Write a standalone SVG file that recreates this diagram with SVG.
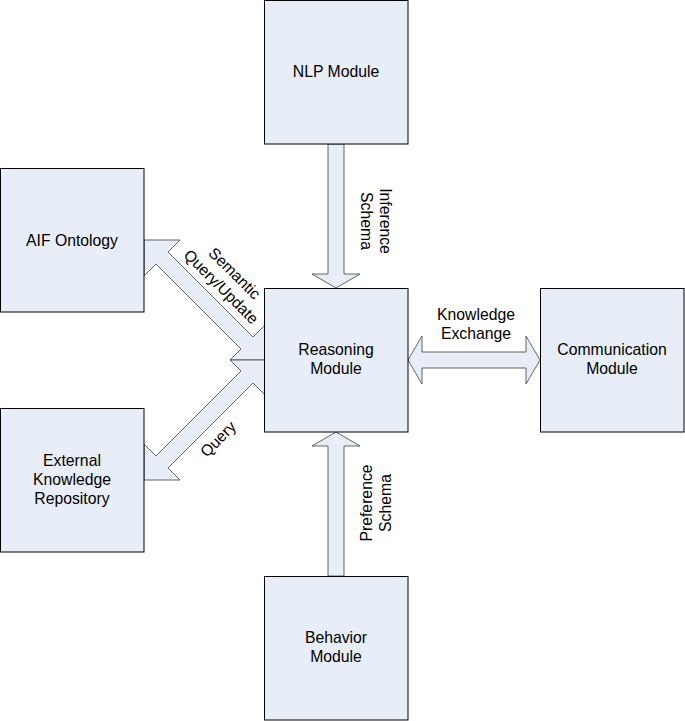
<svg xmlns="http://www.w3.org/2000/svg" width="685" height="721" viewBox="0 0 685 721">
<style>
.box{fill:#e8eef7;stroke:#000;stroke-width:1}
.arr{fill:#e8eef7;stroke:#404040;stroke-width:0.8;stroke-linejoin:miter}
text{font-family:"Liberation Sans",Arial,sans-serif;font-size:15.75px;fill:#000}
.c{text-anchor:middle}
</style>
<rect width="685" height="721" fill="#fff"/>
<g id="connectors">
<polygon id="c-inference" class="arr" points="328,144 344,144 344,274 360,274 336,288 312,274 328,274"/>
<polygon id="c-preference" class="arr" points="328,576 344,576 344,446 360,446 336,432 312,446 328,446"/>
<polygon id="c-knowledge" class="arr" points="408,360 422,336 422,352 526,352 526,336 540,360 526,384 526,368 422,368 422,384"/>
<polygon id="c-semantic" class="arr" points="144,240 180,240 168,252 253,337 265,325 265,360 230,360 241,349 156,264 144,276"/>
<polygon id="c-query" class="arr" points="144,480 180,480 168,468 253,383 265,395 265,360 230,360 241,371 156,456 144,444"/>
<text class="c" transform="translate(376,221) rotate(90)"><tspan x="0" y="-4">Inference</tspan><tspan x="0" y="15">Schema</tspan></text>
<text class="c" transform="translate(376,503) rotate(-90)"><tspan x="0" y="-4">Preference</tspan><tspan x="0" y="15">Schema</tspan></text>
<text class="c"><tspan x="476" y="320">Knowledge</tspan><tspan x="476" y="339">Exchange</tspan></text>
<text class="c" transform="translate(228,280) rotate(45)"><tspan x="0" y="-4">Semantic</tspan><tspan x="0" y="15">Query/Update</tspan></text>
<text class="c" transform="translate(218,439) rotate(-45)" y="5.5">Query</text>
</g>
<g id="nlp">
<rect class="box" x="264.5" y="0.5" width="143.5" height="143.5"/>
<text class="c" x="336" y="77">NLP Module</text>
</g>
<g id="aif">
<rect class="box" x="0.5" y="168.5" width="143.5" height="143.5"/>
<text class="c" x="72" y="246">AIF Ontology</text>
</g>
<g id="reasoning">
<rect class="box" x="264.5" y="288.5" width="143.5" height="143.5"/>
<text class="c"><tspan x="336" y="355">Reasoning</tspan><tspan x="336" y="374">Module</tspan></text>
</g>
<g id="communication">
<rect class="box" x="540.5" y="288.5" width="143.5" height="143.5"/>
<text class="c"><tspan x="612" y="355">Communication</tspan><tspan x="612" y="374">Module</tspan></text>
</g>
<g id="external">
<rect class="box" x="0.5" y="408.5" width="143.5" height="143.5"/>
<text class="c"><tspan x="72" y="466">External</tspan><tspan x="72" y="485">Knowledge</tspan><tspan x="72" y="504">Repository</tspan></text>
</g>
<g id="behavior">
<rect class="box" x="264.5" y="576.5" width="143.5" height="143.5"/>
<text class="c"><tspan x="336" y="643">Behavior</tspan><tspan x="336" y="662">Module</tspan></text>
</g>
</svg>
